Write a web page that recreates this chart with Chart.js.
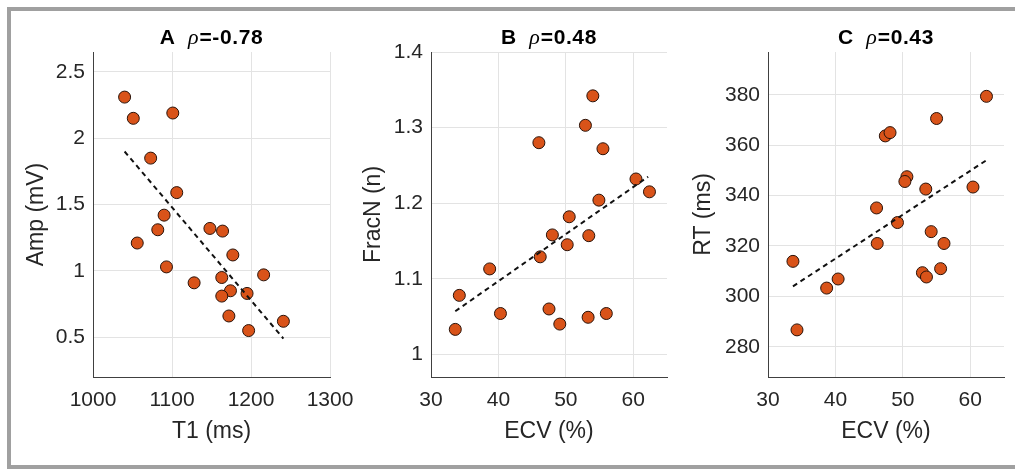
<!DOCTYPE html>
<html>
<head>
<meta charset="utf-8">
<script src="https://cdn.jsdelivr.net/npm/chart.js@4"></script>
<style>
  html, body { margin: 0; padding: 0; background: #fff; overflow: hidden; }
  #page { width: 1015px; height: 470px; position: relative; overflow: hidden; }
  #frame { position: absolute; left: 7px; top: 7px; width: 1100px; height: 454px; border: 4px solid #a0a0a0; border-right: none; }
  canvas { position: absolute; top: 0; }
</style>
</head>
<body>
<div id="page">
<div id="frame"></div>
<canvas id="chartA" width="360" height="470" style="left:10px"></canvas>
<canvas id="chartB" width="357" height="470" style="left:340px"></canvas>
<canvas id="chartC" width="335" height="470" style="left:680px"></canvas>
</div>
<script>
// Panel A: Amp vs T1
var t1 = [1040, 1051, 1101, 1073, 1106, 1090, 1082, 1056, 1093, 1128, 1148, 1164, 1177, 1163, 1174, 1163, 1195, 1216, 1172, 1197, 1241];
var amp = [2.31, 2.15, 2.19, 1.85, 1.59, 1.42, 1.31, 1.21, 1.03, 0.91, 1.32, 1.30, 1.12, 0.95, 0.85, 0.81, 0.83, 0.97, 0.66, 0.55, 0.62];
var fitAx = [1040, 1241];
var fitAy = [1.90, 0.49];
var xTicksA = [1000, 1100, 1200, 1300];
var yTicksA = [0.5, 1, 1.5, 2, 2.5];

// Panel B: FracN vs ECV
var ecvB = [33.6, 34.2, 38.7, 40.3, 46.0, 46.2, 47.5, 48.0, 49.1, 50.2, 50.5, 52.9, 54.0, 53.4, 53.3, 54.9, 55.5, 56.0, 60.4, 62.4];
var fracN = [1.033, 1.078, 1.113, 1.054, 1.280, 1.129, 1.060, 1.158, 1.040, 1.145, 1.182, 1.303, 1.342, 1.157, 1.049, 1.204, 1.272, 1.054, 1.232, 1.215];
var fitBx = [33.6, 62.2];
var fitBy = [1.057, 1.235];
var xTicksB = [30, 40, 50, 60];
var yTicksB = [1, 1.1, 1.2, 1.3, 1.4];

// Panel C: RT vs ECV
var ecvC = [33.7, 34.3, 38.7, 40.4, 46.1, 46.2, 47.4, 48.1, 49.2, 50.6, 50.3, 52.9, 53.5, 53.4, 54.2, 55.0, 55.6, 56.1, 60.4, 62.4];
var rt = [313.9, 286.7, 303.3, 306.9, 335.1, 321.0, 363.7, 365.0, 329.3, 347.5, 345.6, 309.4, 307.7, 342.6, 325.7, 370.6, 311.0, 321.0, 343.4, 379.4];
var fitCx = [33.7, 62.6];
var fitCy = [304, 354.4];
var xTicksC = [30, 40, 50, 60];
var yTicksC = [280, 300, 320, 340, 360, 380];

var panelLetters = ['A', 'B', 'C'];
var rhoValues = ['-0.78', '0.48', '0.43'];

var FONT = "'Liberation Sans', Arial, Helvetica, sans-serif";
var TEXT = '#262626';

function pairs(xs, ys) {
    return xs.map(function (x, i) { return { x: x, y: ys[i] }; });
}

// title like "A  ρ=-0.78" with italic rho, centred over the plot area
function titlePlugin(letter, value) {
    return {
        id: 'panelTitle',
        afterDraw: function (chart) {
            var ctx = chart.ctx;
            var area = chart.chartArea;
            var bold = 'bold 21px ' + FONT;
            var ital = 'italic 22px "Liberation Serif", "DejaVu Serif", serif';
            var spacing = '0.6px';
            ctx.save();
            ctx.fillStyle = '#000';
            ctx.textBaseline = 'alphabetic';
            ctx.font = bold;
            var wL = ctx.measureText(letter).width;
            ctx.letterSpacing = spacing;
            var wV = ctx.measureText('=' + value).width;
            ctx.letterSpacing = '0px';
            ctx.font = ital;
            var wR = ctx.measureText('\u03c1').width;
            var gap = 13;
            var x = (area.left + area.right) / 2 - (wL + gap + wR + 1 + wV) / 2;
            var base = 44;
            ctx.font = bold;
            ctx.fillText(letter, x, base);
            x += wL + gap;
            ctx.font = ital;
            ctx.fillText('\u03c1', x, base);
            x += wR + 1;
            ctx.font = bold;
            ctx.letterSpacing = spacing;
            ctx.fillText('=' + value, x, base);
            ctx.restore();
        }
    };
}

function plain(v) {
    return String(v);
}

function makePanel(id, o) {
    return new Chart(document.getElementById(id), {
        type: 'scatter',
        data: {
            datasets: [{
                type: 'line',
                data: pairs(o.fitX, o.fitY),
                borderColor: '#111',
                borderWidth: 2,
                borderDash: [5, 4],
                pointRadius: 0,
                fill: false
            }, {
                data: pairs(o.xs, o.ys),
                backgroundColor: '#D95319',
                borderColor: '#2a1208',
                borderWidth: 1,
                pointRadius: 6,
                pointHoverRadius: 6
            }]
        },
        options: {
            responsive: false,
            animation: false,
            devicePixelRatio: 1,
            layout: { padding: { left: 0, top: 52, right: o.padRight, bottom: 0 } },
            plugins: { legend: { display: false }, tooltip: { enabled: false } },
            scales: {
                x: {
                    type: 'linear',
                    min: o.xMin,
                    max: o.xMax,
                    afterBuildTicks: function (s) { s.ticks = o.xTicks.map(function (v) { return { value: v }; }); },
                    afterFit: function (s) { s.height = 93; },
                    grid: { color: '#e3e3e3', drawTicks: false },
                    border: { color: '#404040', width: 1 },
                    ticks: { color: TEXT, font: { family: FONT, size: 21 }, padding: 11, maxRotation: 0, callback: plain },
                    title: { display: true, text: o.xTitle, color: TEXT, font: { family: FONT, size: 23 }, padding: { top: 0, bottom: 25 } }
                },
                y: {
                    type: 'linear',
                    min: o.yMin,
                    max: o.yMax,
                    afterBuildTicks: function (s) { s.ticks = o.yTicks.map(function (v) { return { value: v }; }); },
                    afterFit: function (s) { s.width = o.yWidth; },
                    grid: { color: '#e3e3e3', drawTicks: false },
                    border: { color: '#404040', width: 1 },
                    ticks: { color: TEXT, font: { family: FONT, size: 21 }, padding: 8, callback: plain },
                    title: { display: true, text: o.yTitle, color: TEXT, font: { family: FONT, size: 23 }, padding: { top: o.yTitlePad, bottom: 0 } }
                }
            }
        },
        plugins: [titlePlugin(o.letter, o.rho)]
    });
}

makePanel('chartA', {
    xs: t1, ys: amp, fitX: fitAx, fitY: fitAy,
    xMin: 1000, xMax: 1300, yMin: 0.2, yMax: 2.65,
    xTicks: xTicksA, yTicks: yTicksA,
    xTitle: 'T1 (ms)', yTitle: 'Amp (mV)',
    yWidth: 83, yTitlePad: 13, padRight: 40,
    letter: panelLetters[0], rho: rhoValues[0]
});

makePanel('chartB', {
    xs: ecvB, ys: fracN, fitX: fitBx, fitY: fitBy,
    xMin: 30, xMax: 65, yMin: 0.97, yMax: 1.4,
    xTicks: xTicksB, yTicks: yTicksB,
    xTitle: 'ECV (%)', yTitle: 'FracN (n)',
    yWidth: 91, yTitlePad: 19.5, padRight: 30,
    letter: panelLetters[1], rho: rhoValues[1]
});

makePanel('chartC', {
    xs: ecvC, ys: rt, fitX: fitCx, fitY: fitCy,
    xMin: 30, xMax: 65, yMin: 268, yMax: 397,
    xTicks: xTicksC, yTicks: yTicksC,
    xTitle: 'ECV (%)', yTitle: 'RT (ms)',
    yWidth: 88, yTitlePad: 9.5, padRight: 11,
    letter: panelLetters[2], rho: rhoValues[2]
});
</script>
</body>
</html>
